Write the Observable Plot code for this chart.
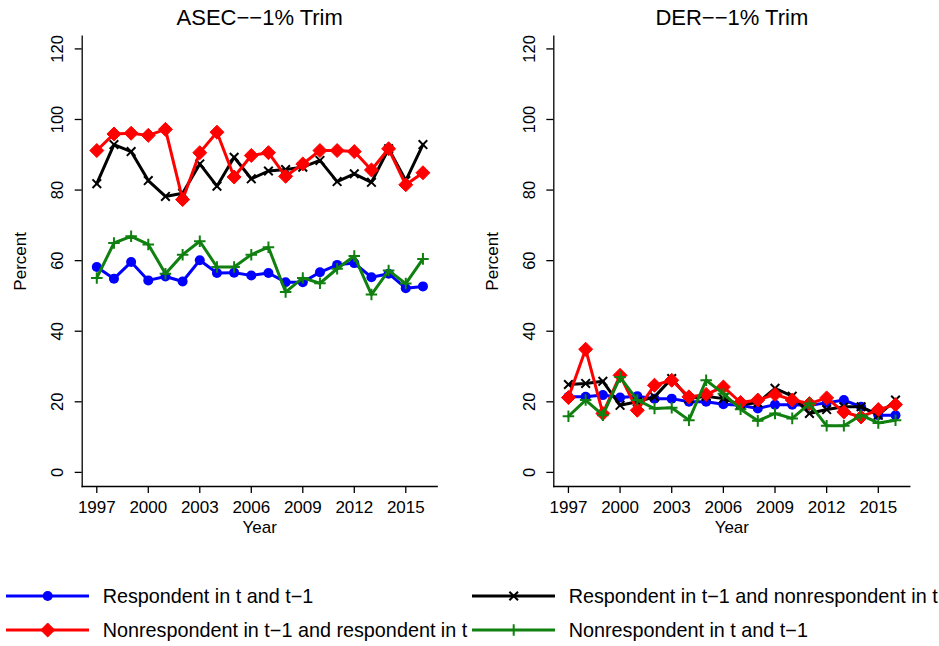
<!DOCTYPE html>
<html>
<head>
<meta charset="utf-8">
<script src="https://cdn.jsdelivr.net/npm/d3@7"></script>
<script src="https://cdn.jsdelivr.net/npm/@observablehq/plot@0.6"></script>
<style>
  html, body { margin: 0; padding: 0; background: #fff; }
  #page { width: 939px; height: 646px; overflow: hidden; }
  #panels { display: flex; }
  svg { display: block; }
</style>
</head>
<body>
<div id="page">
  <div id="panels"></div>
  <div id="legend"></div>
</div>
<script>
const FONT = "'Liberation Sans', Arial, Helvetica, sans-serif";

// Survey years and axis ticks
const years = [1997, 1998, 1999, 2000, 2001, 2002, 2003, 2004, 2005, 2006,
               2007, 2008, 2009, 2010, 2011, 2012, 2013, 2014, 2015, 2016];
const xTicks = [1997, 2000, 2003, 2006, 2009, 2012, 2015];
const yTicks = [0, 20, 40, 60, 80, 100, 120];

// Series labels
const seriesNames = [
  "Respondent in t and t\u22121",
  "Respondent in t\u22121 and nonrespondent in t",
  "Nonrespondent in t\u22121 and respondent in t",
  "Nonrespondent in t and t\u22121"
];

// ASEC, 1% trim (percent)
const asecRespBoth   = [58.2, 54.9, 59.6, 54.4, 55.5, 54.1, 60.1, 56.5, 56.6, 55.8,
                        56.5, 53.9, 53.9, 56.7, 58.8, 59.3, 55.3, 56.3, 52.2, 52.7];
const asecRespPrev   = [81.8, 92.9, 90.9, 82.7, 78.2, 79.1, 87.4, 81.1, 89.3, 83.2,
                        85.4, 85.8, 86.5, 88.4, 82.4, 84.6, 82.2, 91.7, 82.7, 92.9];
const asecRespNow    = [91.2, 95.9, 96.1, 95.5, 97.2, 77.3, 90.6, 96.4, 83.7, 89.8,
                        90.6, 83.9, 87.4, 91.2, 91.2, 90.9, 85.7, 91.7, 81.5, 84.9];
const asecNonBoth    = [55.1, 65.0, 66.9, 64.6, 56.3, 61.7, 65.5, 58.2, 58.2, 61.7,
                        63.8, 51.1, 55.1, 53.6, 57.7, 61.3, 50.4, 57.2, 53.5, 60.5];

// DER, 1% trim (percent)
const derRespBoth    = [21.4, 21.4, 21.9, 21.2, 21.6, 20.9, 20.9, 20.0, 20.0, 19.3,
                        19.0, 18.1, 19.2, 19.2, 19.0, 19.7, 20.5, 18.6, 16.2, 16.2];
const derRespPrev    = [24.9, 25.2, 25.8, 19.0, 20.0, 21.4, 26.6, 20.9, 21.6, 20.9,
                        19.2, 19.7, 23.8, 21.6, 16.7, 17.8, 18.6, 18.6, 16.2, 20.5];
const derRespNow     = [21.2, 34.9, 16.7, 27.5, 17.6, 24.7, 26.1, 21.4, 22.1, 24.2,
                        19.8, 20.5, 22.1, 20.5, 19.5, 21.1, 17.1, 15.7, 17.8, 19.2];
const derNonBoth     = [15.9, 20.5, 16.2, 27.0, 20.5, 18.1, 18.3, 14.8, 26.1, 22.3,
                        17.9, 14.6, 16.7, 15.3, 19.5, 13.2, 13.2, 16.2, 14.0, 14.8];

// Drawing style for each series, in drawing order
const styles = [
  {color: "#0000ff", symbol: "circle",   r: 5,   fill: "#0000ff", stroke: "none",    sw: 0},
  {color: "#000000", symbol: "times",    r: 4,   fill: "none",    stroke: "#000000", sw: 2},
  {color: "#ff0000", symbol: "diamond2", r: 6.3, fill: "#ff0000", stroke: "#ff0000", sw: 1},
  {color: "#108010", symbol: "plus",     r: 3.8, fill: "none",    stroke: "#108010", sw: 2}
];

function toRows(seriesValues) {
  const rows = [];
  seriesValues.forEach((vals, s) => {
    vals.forEach((v, i) => rows.push({year: years[i], value: v, series: s}));
  });
  return rows;
}

function panel(title, rows, width, marginLeft, marginRight) {
  const txt = {fill: "#000", lineAnchor: "middle", textAnchor: "middle"};
  const marks = [
    Plot.frame({anchor: "left", stroke: "#000", strokeWidth: 1.3}),
    Plot.frame({anchor: "bottom", stroke: "#000", strokeWidth: 1.3}),
    Plot.axisX({ticks: xTicks, tickSize: 7, tickFormat: () => "", label: null, strokeWidth: 1.3}),
    Plot.axisY({ticks: yTicks, tickSize: 7, tickFormat: () => "", label: null, strokeWidth: 1.3}),
    Plot.text(xTicks, {...txt, x: d => d, text: d => String(d), frameAnchor: "bottom", dy: 20.7,
                       fontSize: 17}),
    Plot.text(yTicks, {...txt, y: d => d, text: d => String(d), frameAnchor: "left", dx: -24.5,
                       rotate: -90, fontSize: 16.5}),
    Plot.text([title], {...txt, frameAnchor: "top", dy: -18, fontSize: 22}),
    Plot.text(["Year"], {...txt, frameAnchor: "bottom", dy: 40.7, fontSize: 17}),
    Plot.text(["Percent"], {...txt, frameAnchor: "left", dx: -61.7, rotate: -90, fontSize: 17})
  ];
  styles.forEach((st, s) => {
    const d = rows.filter(r => r.series === s);
    marks.push(Plot.line(d, {x: "year", y: "value", stroke: st.color, strokeWidth: 3}));
    marks.push(Plot.dot(d, {x: "year", y: "value", symbol: st.symbol, r: st.r,
                            fill: st.fill, stroke: st.stroke, strokeWidth: st.sw}));
  });
  return Plot.plot({
    width, height: 545,
    marginLeft, marginRight, marginTop: 35.7, marginBottom: 59,
    x: {domain: [1996.15, 2016.83]},
    y: {domain: [-4, 123.6]},
    style: {fontFamily: FONT, background: "#fff", color: "#000", overflow: "visible"},
    marks
  });
}

const asecRows = toRows([asecRespBoth, asecRespPrev, asecRespNow, asecNonBoth]);
const derRows  = toRows([derRespBoth, derRespPrev, derRespNow, derNonBoth]);

const panels = document.getElementById("panels");
panels.append(panel("ASEC\u2212\u22121% Trim", asecRows, 470, 81.7, 33.3));
panels.append(panel("DER\u2212\u22121% Trim", derRows, 469, 83.3, 29.7));

// Legend: two columns, filled row by row
const legendItems = [
  {s: 0, x0: 6,   row: 0},
  {s: 1, x0: 472, row: 0},
  {s: 2, x0: 6,   row: 1},
  {s: 3, x0: 472, row: 1}
];
const rowY = [51, 85];
const symbolTypes = {circle: d3.symbolCircle, times: d3.symbolTimes,
                     diamond2: d3.symbolDiamond2, plus: d3.symbolPlus};
const lsvg = d3.select("#legend").append("svg")
  .attr("width", 939).attr("height", 101)
  .style("font-family", FONT);
legendItems.forEach(it => {
  const st = styles[it.s];
  const y = rowY[it.row];
  const g = lsvg.append("g");
  g.append("line").attr("x1", it.x0).attr("x2", it.x0 + 83)
    .attr("y1", y).attr("y2", y).attr("stroke", st.color).attr("stroke-width", 3);
  g.append("path")
    .attr("transform", `translate(${it.x0 + 41.7},${y})`)
    .attr("d", d3.symbol(symbolTypes[st.symbol], Math.PI * st.r * st.r)())
    .attr("fill", st.fill).attr("stroke", st.stroke).attr("stroke-width", st.sw);
  g.append("text").attr("x", it.x0 + 96.7).attr("y", y).attr("dy", "0.35em")
    .attr("font-size", 19.8).attr("fill", "#000").text(seriesNames[it.s]);
});
</script>
</body>
</html>
